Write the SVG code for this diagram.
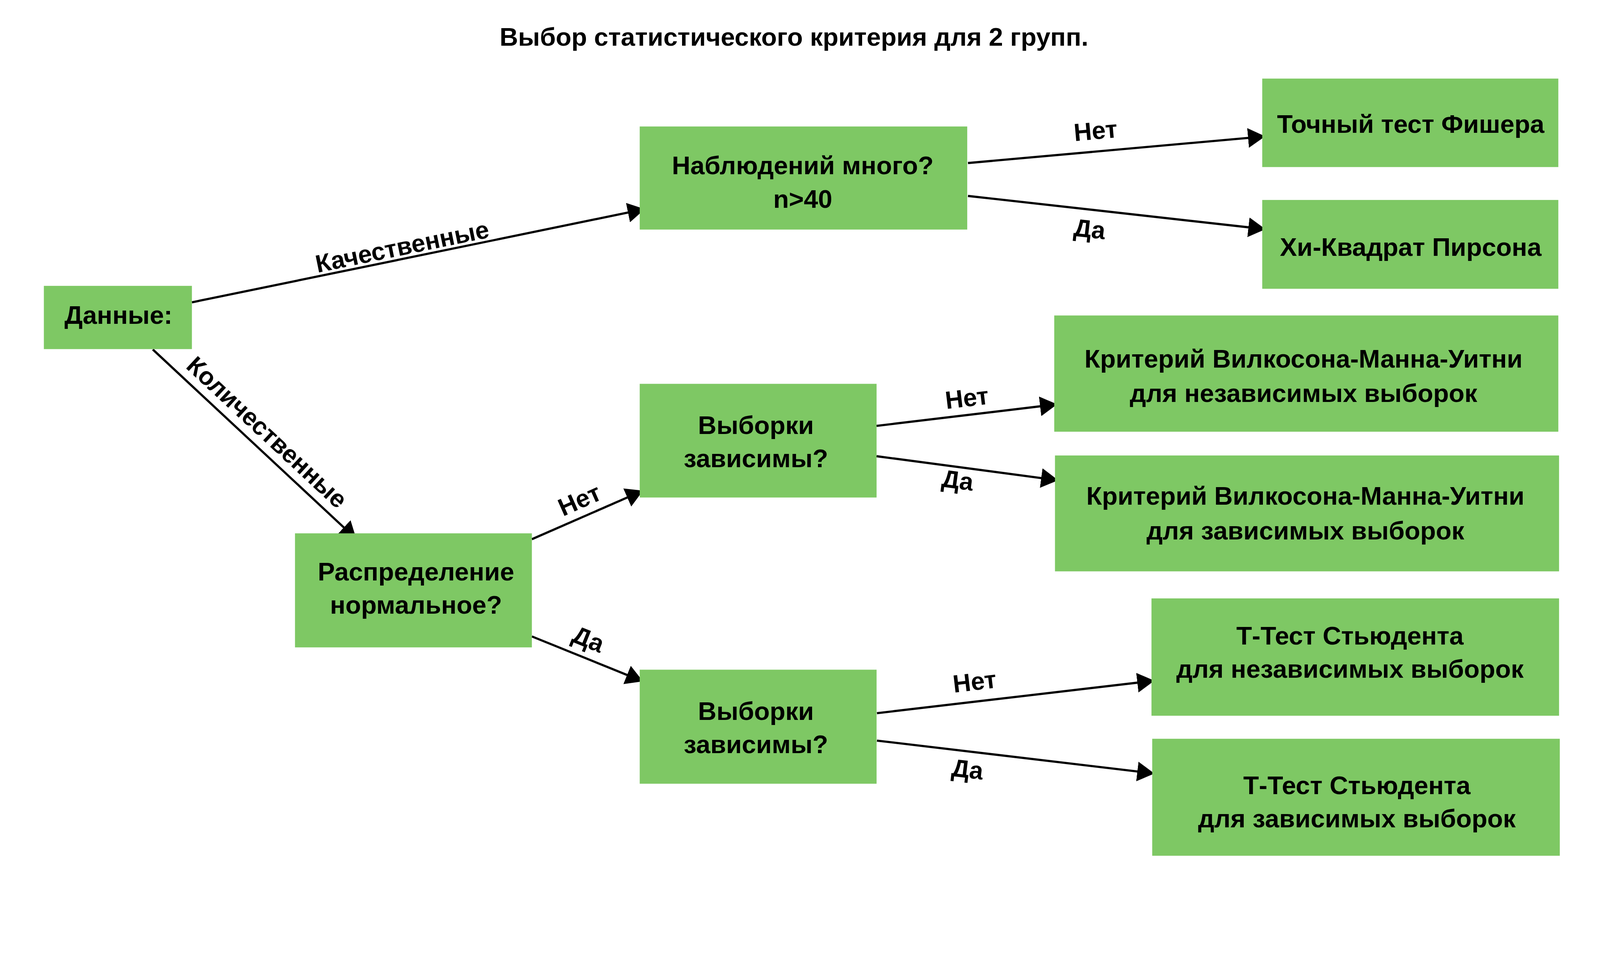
<svg xmlns="http://www.w3.org/2000/svg" width="4377" height="2496" viewBox="0 0 4377 2496" preserveAspectRatio="xMinYMin meet" style="width:100vw;height:100vh;display:block">
<defs>
<style>
.box{fill:#7ec864;}
.t{font-family:"Liberation Sans",Arial,sans-serif;font-weight:bold;font-size:70px;fill:#000;text-anchor:middle;}
.lbl{font-family:"Liberation Sans",Arial,sans-serif;font-weight:bold;font-size:68px;fill:#000;text-anchor:middle;}
.edge{stroke:#000;stroke-width:6;fill:none;marker-end:url(#ah);}
</style>
<marker id="ah" markerUnits="userSpaceOnUse" markerWidth="48" markerHeight="56" refX="7" refY="27" orient="auto" viewBox="0 0 48 54">
<path d="M0,0 L47,27 L0,54 Z" fill="#000"/>
</marker>
</defs>
<rect width="4377" height="2496" fill="#fff"/>
<text class="t" x="2172" y="125">Выбор статистического критерия для 2 групп.</text>

<g id="connectors">
<line class="edge" x1="525" y1="827" x2="1724.8" y2="580.1"/>
<line class="edge" x1="418" y1="956" x2="945.7" y2="1447.7"/>
<line class="edge" x1="2648" y1="446" x2="3421.2" y2="376.6"/>
<line class="edge" x1="2648" y1="536" x2="3422.2" y2="622.6"/>
<line class="edge" x1="1455" y1="1475" x2="1722.4" y2="1358.2"/>
<line class="edge" x1="1455" y1="1741" x2="1721.9" y2="1849.0"/>
<line class="edge" x1="2398" y1="1165" x2="2852.3" y2="1110.7"/>
<line class="edge" x1="2398" y1="1248" x2="2855.3" y2="1308.7"/>
<line class="edge" x1="2399" y1="1951" x2="3118.3" y2="1866.7"/>
<line class="edge" x1="2399" y1="2026" x2="3118.3" y2="2111.3"/>
<g transform="translate(1100,674) rotate(-11.6)"><text class="lbl" x="0" y="24">Качественные</text></g>
<g transform="translate(731,1182) rotate(43)"><text class="lbl" x="0" y="24">Количественные</text></g>
<g transform="translate(2997,357) rotate(-5.1)"><text class="lbl" x="0" y="24">Нет</text></g>
<g transform="translate(2981,626) rotate(6.4)"><text class="lbl" x="0" y="24">Да</text></g>
<g transform="translate(1585,1367) rotate(-23.9)"><text class="lbl" x="0" y="24">Нет</text></g>
<g transform="translate(1610,1748) rotate(22)"><text class="lbl" x="0" y="24">Да</text></g>
<g transform="translate(2645,1088) rotate(-6.8)"><text class="lbl" x="0" y="24">Нет</text></g>
<g transform="translate(2620,1313) rotate(7.6)"><text class="lbl" x="0" y="24">Да</text></g>
<g transform="translate(2666,1864) rotate(-6.7)"><text class="lbl" x="0" y="24">Нет</text></g>
<g transform="translate(2647,2104) rotate(6.8)"><text class="lbl" x="0" y="24">Да</text></g>
</g>

<g id="n-data">
<rect class="box" x="120" y="782" width="405" height="173"/>
<text class="t" x="324" y="886">Данные:</text>
</g>
<g id="n-obs">
<rect class="box" x="1750" y="346" width="896" height="282"/>
<text class="t" x="2196" y="477">Наблюдений много?</text>
<text class="t" x="2196" y="569">n&gt;40</text>
</g>
<g id="n-fisher">
<rect class="box" x="3453" y="215" width="810" height="242"/>
<text class="t" x="3859" y="363">Точный тест Фишера</text>
</g>
<g id="n-chi">
<rect class="box" x="3453" y="547" width="810" height="243"/>
<text class="t" x="3859" y="700">Хи-Квадрат Пирсона</text>
</g>
<g id="n-dist">
<rect class="box" x="807" y="1459" width="648" height="312"/>
<text class="t" x="1138" y="1588">Распределение</text>
<text class="t" x="1138" y="1679">нормальное?</text>
</g>
<g id="n-dep1">
<rect class="box" x="1750" y="1050" width="648" height="311"/>
<text class="t" x="2068" y="1187">Выборки</text>
<text class="t" x="2068" y="1278">зависимы?</text>
</g>
<g id="n-dep2">
<rect class="box" x="1750" y="1832" width="648" height="312"/>
<text class="t" x="2068" y="1969">Выборки</text>
<text class="t" x="2068" y="2060">зависимы?</text>
</g>
<g id="n-mw-ind">
<rect class="box" x="2884" y="863" width="1379" height="318"/>
<text class="t" x="3566" y="1006">Критерий Вилкосона-Манна-Уитни</text>
<text class="t" x="3566" y="1100">для независимых выборок</text>
</g>
<g id="n-mw-dep">
<rect class="box" x="2886" y="1246" width="1379" height="317"/>
<text class="t" x="3571" y="1381">Критерий Вилкосона-Манна-Уитни</text>
<text class="t" x="3571" y="1476">для зависимых выборок</text>
</g>
<g id="n-t-ind">
<rect class="box" x="3150" y="1637" width="1115" height="321"/>
<text class="t" x="3693" y="1763">Т-Тест Стьюдента</text>
<text class="t" x="3693" y="1854">для независимых выборок</text>
</g>
<g id="n-t-dep">
<rect class="box" x="3152" y="2021" width="1115" height="320"/>
<text class="t" x="3712" y="2172">Т-Тест Стьюдента</text>
<text class="t" x="3712" y="2263">для зависимых выборок</text>
</g>
</svg>
